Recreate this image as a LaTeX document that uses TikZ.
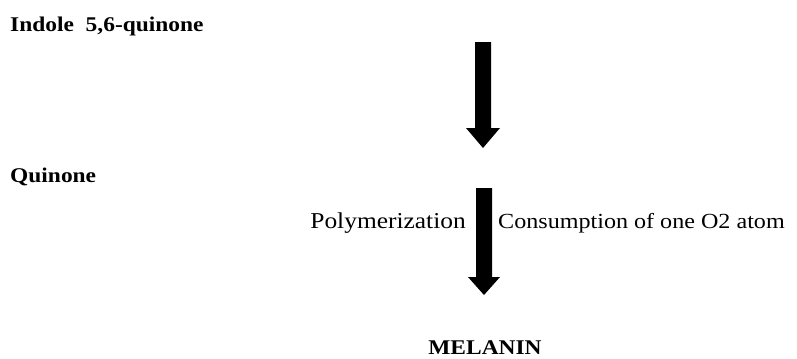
\documentclass[tikz,border=0pt]{standalone}
\usepackage{fontspec}
\setmainfont{Liberation Serif}[FakeStretch=1.12]
\begin{document}
\begin{tikzpicture}[x=1bp,y=-1bp,
  lbl/.style={inner sep=0pt,font=\fontsize{21.6}{24}\selectfont},
  blbl/.style={inner sep=0pt,font=\fontsize{21}{24}\selectfont\bfseries},
  bigarrow/.style={fill=black,draw=none}]
\useasboundingbox (0,0) rectangle (797,358);
\node[blbl,anchor=base west] (indole) at (10,31) {Indole\ \ 5,6-quinone};
\node[blbl,anchor=base west] (quinone) at (10,182) {Quinone};
\node[lbl,anchor=base east,font=\fontsize{22.8}{24}\selectfont] (poly) at (466,228) {Polymerization};
\node[lbl,anchor=base west] (cons) at (498,228) {Consumption of one O2 atom};
\node[blbl,anchor=base] (melanin) at (485,354) {MELANIN};
\fill[bigarrow] (475,42) -- (491,42) -- (491,128) -- (500,128) -- (483,148) -- (466,128) -- (475,128) -- cycle;
\fill[bigarrow] (476,188) -- (492,188) -- (492,277) -- (500,277) -- (484,295) -- (468,277) -- (476,277) -- cycle;
\end{tikzpicture}
\end{document}
